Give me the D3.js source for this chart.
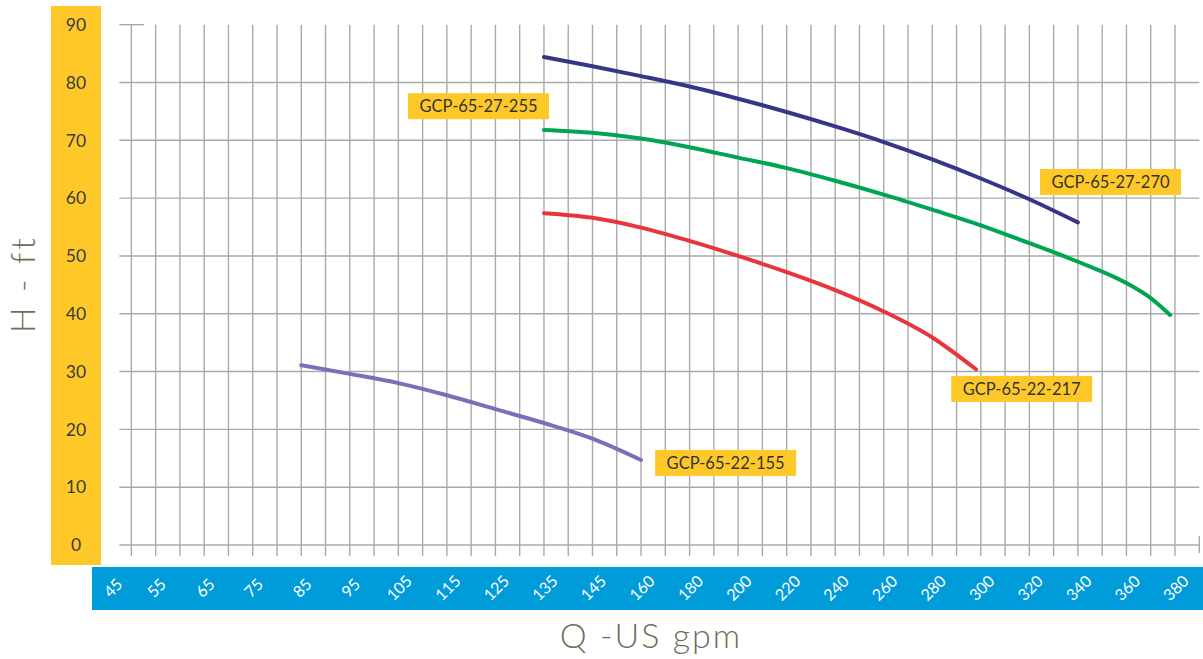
<!DOCTYPE html>
<html>
<head>
<meta charset="utf-8">
<script src="https://cdn.jsdelivr.net/npm/d3@7/dist/d3.min.js"></script>
<style>
  html, body { margin: 0; padding: 0; background: #ffffff; }
  svg { display: block; }
  text { font-family: "Lato", "Open Sans", sans-serif; }
</style>
</head>
<body>
<svg id="chart" width="1203" height="659"></svg>
<script>
// ---------- DATA ----------
const xTickLabels = [45, 55, 65, 75, 85, 95, 105, 115, 125, 135, 145, 160, 180, 200, 220, 240, 260, 280, 300, 320, 340, 360, 380];
const yTickLabels = [0, 10, 20, 30, 40, 50, 60, 70, 80, 90];

const seriesNames = ["GCP-65-22-155", "GCP-65-22-217", "GCP-65-27-255", "GCP-65-27-270"];

const q155 = [85, 95, 105, 115, 125, 135, 145, 160];
const h155 = [31.1, 29.6, 28.0, 25.9, 23.5, 21.1, 18.4, 14.7];

const q217 = [135, 145, 160, 180, 200, 220, 240, 260, 280, 298];
const h217 = [57.4, 56.6, 54.9, 52.6, 50.0, 47.2, 44.1, 40.4, 35.9, 30.4];

const q255 = [135, 145, 160, 180, 200, 220, 240, 260, 280, 300, 320, 340, 360, 370, 378];
const h255 = [71.8, 71.3, 70.3, 68.8, 67.0, 65.2, 63.0, 60.6, 58.0, 55.3, 52.2, 49.0, 45.3, 42.7, 39.8];

const q270 = [135, 145, 160, 180, 200, 220, 240, 260, 280, 300, 320, 340];
const h270 = [84.4, 82.8, 81.1, 79.3, 77.2, 74.9, 72.4, 69.7, 66.7, 63.4, 59.8, 55.8];

// label anchors (data units: gpm at box left, ft at box centre)
const labelQ = [165.8, 287.8, 107, 324.4];
const labelH = [14.2, 27.0, 75.9, 62.8];

const seriesColors = ["#7b70b8", "#e8353b", "#00a552", "#363689"];

// ---------- LAYOUT ----------
const svg = d3.select("#chart");
const X0 = 107.1, STEP = 48.54;
const x = d3.scaleLinear()
  .domain(xTickLabels)
  .range(xTickLabels.map((d, i) => X0 + i * STEP));
const y = d3.scaleLinear().domain([0, 90]).range([545, 24.7]);

const gridColor = "#a8aaaa";
const gridLeft = 119.3, gridRight = 1199.3;

// coloured bands
svg.append("rect").attr("x", 51).attr("y", 6).attr("width", 50).attr("height", 559).attr("fill", "#fec928");
svg.append("rect").attr("x", 92).attr("y", 567).attr("width", 1111).attr("height", 43).attr("fill", "#009bd9");

// vertical grid: every tick and midpoint between ticks, skipping first tick
const vGrid = [];
xTickLabels.forEach((d, i) => {
  if (i > 0) {
    vGrid.push((xTickLabels[i - 1] + d) / 2);
    vGrid.push(d);
  }
});
svg.append("g").selectAll("line").data(vGrid).join("line")
  .attr("x1", d => x(d)).attr("x2", d => x(d))
  .attr("y1", y(90)).attr("y2", y(0) + 11)
  .attr("stroke", gridColor).attr("stroke-width", 1.4);

// horizontal grid
svg.append("g").selectAll("line").data(yTickLabels.filter(d => d < 90)).join("line")
  .attr("x1", gridLeft).attr("x2", gridRight)
  .attr("y1", d => y(d)).attr("y2", d => y(d))
  .attr("stroke", gridColor).attr("stroke-width", 1.4);
// top cap at 90
svg.append("line").attr("x1", gridLeft).attr("x2", 144).attr("y1", y(90)).attr("y2", y(90))
  .attr("stroke", gridColor).attr("stroke-width", 1.4);
// right end cap at 0
svg.append("line").attr("x1", gridRight).attr("x2", gridRight).attr("y1", y(0) - 9).attr("y2", y(0) + 8)
  .attr("stroke", gridColor).attr("stroke-width", 1.4);

// y tick labels
svg.append("g").selectAll("text").data(yTickLabels).join("text")
  .attr("x", 76).attr("y", d => y(d))
  .attr("dy", "0.36em")
  .attr("text-anchor", "middle")
  .attr("font-size", 17.5)
  .attr("fill", "#3b3b3b")
  .text(d => d);

// x tick labels (rotated)
svg.append("g").selectAll("text").data(xTickLabels).join("text")
  .attr("transform", (d, i) => `translate(${x(d) + (i === 0 ? 6 : 1)},${588}) rotate(-45)`)
  .attr("text-anchor", "middle")
  .attr("dy", "0.35em")
  .attr("font-size", 16)
  .attr("fill", "#ffffff")
  .text(d => d);

// axis titles
svg.append("text")
  .attr("transform", "translate(35,284) rotate(-90)")
  .attr("text-anchor", "middle")
  .attr("font-size", 34)
  .attr("font-weight", 300)
  .attr("letter-spacing", 3)
  .attr("fill", "#6c705a")
  .text("H - ft");

svg.append("text")
  .attr("x", 651).attr("y", 648)
  .attr("text-anchor", "middle")
  .attr("font-size", 34)
  .attr("font-weight", 300)
  .attr("letter-spacing", 2)
  .attr("fill", "#6c705a")
  .text("Q -US gpm");

// curves
const allQ = [q155, q217, q255, q270];
const allH = [h155, h217, h255, h270];
const line = d3.line().x(d => x(d[0])).y(d => y(d[1])).curve(d3.curveMonotoneX);
allQ.forEach((qs, k) => {
  const pts = qs.map((q, i) => [q, allH[k][i]]);
  svg.append("path").datum(pts)
    .attr("d", line)
    .attr("fill", "none")
    .attr("stroke", seriesColors[k])
    .attr("stroke-width", 4)
    .attr("stroke-linecap", "round");
});

// labels
const boxW = 141, boxH = 26;
seriesNames.forEach((name, k) => {
  const bx = x(labelQ[k]), by = y(labelH[k]);
  const g = svg.append("g").attr("transform", `translate(${bx},${by - boxH / 2})`);
  g.append("rect").attr("width", boxW).attr("height", boxH).attr("fill", "#fec928");
  g.append("text").attr("x", boxW / 2).attr("y", boxH / 2).attr("dy", "0.36em")
    .attr("text-anchor", "middle").attr("font-size", 16.5).attr("fill", "#333333")
    .text(name);
});
</script>
</body>
</html>
